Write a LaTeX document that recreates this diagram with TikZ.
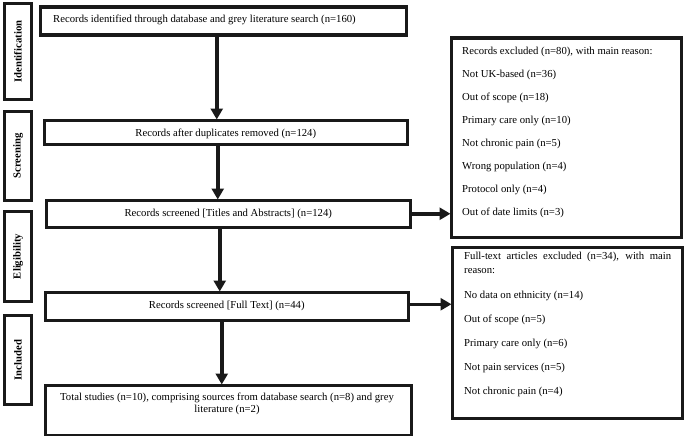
\documentclass[tikz,border=0pt]{standalone}
\usepackage{fontspec}
\setmainfont{Liberation Serif}
\usetikzlibrary{arrows.meta}
\begin{document}
\begin{tikzpicture}[x=1pt,y=-1pt,
  box/.style={draw=black!90, line width=3.5pt, inner sep=0pt, anchor=north west, fill=white},
  side/.style={font=\fontsize{10.7}{12}\selectfont\bfseries, rotate=90, inner sep=0pt},
  txt/.style={font=\fontsize{10.7}{12.5}\selectfont, inner sep=0pt},
  arr/.style={draw=black!90, line width=3.5pt, -{Triangle[length=11pt,width=12pt]}, shorten >=-1pt}]
\path[use as bounding box] (0,0) rectangle (685,436);
% side boxes
\node[box, minimum width=27pt, minimum height=96pt] (s1) at (2.75,1.75) {};
\node[side] (s1t) at (s1.center) {Identification};
\node[box, minimum width=27pt, minimum height=89pt] (s2) at (2.75,109.75) {};
\node[side] (s2t) at (s2.center) {Screening};
\node[box, minimum width=27pt, minimum height=90pt] (s3) at (2.75,209.75) {};
\node[side] (s3t) at (s3.center) {Eligibility};
\node[box, minimum width=27pt, minimum height=89pt] (s4) at (2.75,313.75) {};
\node[side] (s4t) at (s4.center) {Included};
% main boxes
\node[box, minimum width=366pt, minimum height=28pt] (b1) at (38.5,5.5) {};
\node[txt, anchor=west] (b1t) at (53,20) {Records identified through database and grey literature search (n=160)};
\node[box, minimum width=363pt, minimum height=24pt] (b2) at (42.5,118.5) {};
\node[txt] (b2t) at ([yshift=-1.5pt]b2.center) {Records after duplicates removed (n=124)};
\node[box, minimum width=364pt, minimum height=27pt] (b3) at (44.5,198.5) {};
\node[txt] (b3t) at (b3.center) {Records screened [Titles and Abstracts] (n=124)};
\node[box, minimum width=363pt, minimum height=28pt] (b4) at (43.5,290.5) {};
\node[txt] (b4t) at (b4.center) {Records screened [Full Text] (n=44)};
\node[box, minimum width=366pt, minimum height=50pt] (b5) at (43.5,383.5) {};
\node[txt, align=center, anchor=north] (b5t) at (227,392.5) {Total studies (n=10), comprising sources from database search (n=8) and grey\\literature (n=2)};
% exclusion boxes
\node[box, minimum width=230pt, minimum height=199pt] (e1) at (449.5,36.5) {};
\foreach \t [count=\i] in {Records excluded (n=80){,} with main reason:, Not UK-based (n=36), Out of scope (n=18), Primary care only (n=10), Not chronic pain (n=5), Wrong population (n=4), Protocol only (n=4), Out of date limits (n=3)}
  \node[txt, anchor=west] (e1t\i) at (462,{51.5+23.1*(\i-1)}) {\t};
\node[box, minimum width=230pt, minimum height=171pt] (e2) at (450.5,245.5) {};
\node[txt, font=\fontsize{10.7}{14}\selectfont, align=left, anchor=north west] (e2h) at (464,252) {\makebox[207pt][s]{Full-text articles excluded (n=34), with main}\\reason:};
\foreach \t [count=\i] in {No data on ethnicity (n=14), Out of scope (n=5), Primary care only (n=6), Not pain services (n=5), Not chronic pain (n=4)}
  \node[txt, anchor=west] (e2t\i) at (464,{296+24*(\i-1)}) {\t};
% arrows
\draw[arr] ([xshift=-6.5pt]b1.south) -- ([xshift=-6.5pt]b1.south |- b2.north);
\draw[arr] ([xshift=-8pt]b2.south) -- ([xshift=-8pt]b2.south |- b3.north);
\draw[arr] ([xshift=-8.5pt]b3.south) -- ([xshift=-8.5pt]b3.south |- b4.north);
\draw[arr] ([xshift=-5pt]b4.south) -- ([xshift=-5pt]b4.south |- b5.north);
\draw[arr] (b3.east) -- (b3.east -| e1.west);
\draw[arr] ([yshift=2pt]b4.east) -- ([yshift=2pt]b4.east -| e2.west);
\end{tikzpicture}
\end{document}
